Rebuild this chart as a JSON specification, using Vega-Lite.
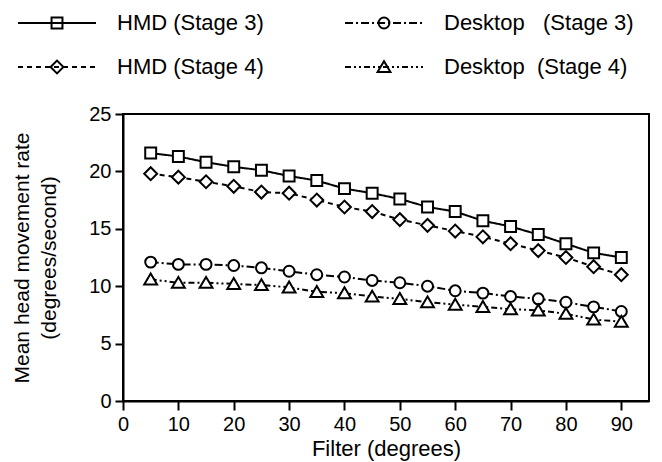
{
  "$schema": "https://vega.github.io/schema/vega-lite/v6.json",
  "autosize": {"type": "none"},
  "padding": {"left": 123, "top": 114, "right": 13, "bottom": 61},
  "width": 526,
  "height": 287,
  "background": "white",
  "config": {
    "view": {"stroke": "black", "strokeWidth": 2},
    "font": "Liberation Sans",
    "axis": {"grid": false, "domainColor": "black", "domainWidth": 2, "tickColor": "black", "tickWidth": 2, "labelColor": "black", "titleColor": "black", "labelFont": "Liberation Sans", "titleFont": "Liberation Sans", "titleFontWeight": "normal"}
  },
  "data": {"values": [
    {"filter": 5, "rate": 21.6, "series": "HMD (Stage 3)"},
    {"filter": 10, "rate": 21.3, "series": "HMD (Stage 3)"},
    {"filter": 15, "rate": 20.8, "series": "HMD (Stage 3)"},
    {"filter": 20, "rate": 20.4, "series": "HMD (Stage 3)"},
    {"filter": 25, "rate": 20.1, "series": "HMD (Stage 3)"},
    {"filter": 30, "rate": 19.6, "series": "HMD (Stage 3)"},
    {"filter": 35, "rate": 19.2, "series": "HMD (Stage 3)"},
    {"filter": 40, "rate": 18.5, "series": "HMD (Stage 3)"},
    {"filter": 45, "rate": 18.1, "series": "HMD (Stage 3)"},
    {"filter": 50, "rate": 17.6, "series": "HMD (Stage 3)"},
    {"filter": 55, "rate": 16.9, "series": "HMD (Stage 3)"},
    {"filter": 60, "rate": 16.5, "series": "HMD (Stage 3)"},
    {"filter": 65, "rate": 15.7, "series": "HMD (Stage 3)"},
    {"filter": 70, "rate": 15.2, "series": "HMD (Stage 3)"},
    {"filter": 75, "rate": 14.5, "series": "HMD (Stage 3)"},
    {"filter": 80, "rate": 13.7, "series": "HMD (Stage 3)"},
    {"filter": 85, "rate": 12.9, "series": "HMD (Stage 3)"},
    {"filter": 90, "rate": 12.5, "series": "HMD (Stage 3)"},
    {"filter": 5, "rate": 19.8, "series": "HMD (Stage 4)"},
    {"filter": 10, "rate": 19.5, "series": "HMD (Stage 4)"},
    {"filter": 15, "rate": 19.1, "series": "HMD (Stage 4)"},
    {"filter": 20, "rate": 18.7, "series": "HMD (Stage 4)"},
    {"filter": 25, "rate": 18.2, "series": "HMD (Stage 4)"},
    {"filter": 30, "rate": 18.1, "series": "HMD (Stage 4)"},
    {"filter": 35, "rate": 17.5, "series": "HMD (Stage 4)"},
    {"filter": 40, "rate": 16.9, "series": "HMD (Stage 4)"},
    {"filter": 45, "rate": 16.5, "series": "HMD (Stage 4)"},
    {"filter": 50, "rate": 15.8, "series": "HMD (Stage 4)"},
    {"filter": 55, "rate": 15.3, "series": "HMD (Stage 4)"},
    {"filter": 60, "rate": 14.8, "series": "HMD (Stage 4)"},
    {"filter": 65, "rate": 14.3, "series": "HMD (Stage 4)"},
    {"filter": 70, "rate": 13.7, "series": "HMD (Stage 4)"},
    {"filter": 75, "rate": 13.1, "series": "HMD (Stage 4)"},
    {"filter": 80, "rate": 12.5, "series": "HMD (Stage 4)"},
    {"filter": 85, "rate": 11.7, "series": "HMD (Stage 4)"},
    {"filter": 90, "rate": 11.0, "series": "HMD (Stage 4)"},
    {"filter": 5, "rate": 12.1, "series": "Desktop\u00a0\u00a0\u00a0(Stage 3)"},
    {"filter": 10, "rate": 11.9, "series": "Desktop\u00a0\u00a0\u00a0(Stage 3)"},
    {"filter": 15, "rate": 11.9, "series": "Desktop\u00a0\u00a0\u00a0(Stage 3)"},
    {"filter": 20, "rate": 11.8, "series": "Desktop\u00a0\u00a0\u00a0(Stage 3)"},
    {"filter": 25, "rate": 11.6, "series": "Desktop\u00a0\u00a0\u00a0(Stage 3)"},
    {"filter": 30, "rate": 11.3, "series": "Desktop\u00a0\u00a0\u00a0(Stage 3)"},
    {"filter": 35, "rate": 11.0, "series": "Desktop\u00a0\u00a0\u00a0(Stage 3)"},
    {"filter": 40, "rate": 10.8, "series": "Desktop\u00a0\u00a0\u00a0(Stage 3)"},
    {"filter": 45, "rate": 10.5, "series": "Desktop\u00a0\u00a0\u00a0(Stage 3)"},
    {"filter": 50, "rate": 10.3, "series": "Desktop\u00a0\u00a0\u00a0(Stage 3)"},
    {"filter": 55, "rate": 10.0, "series": "Desktop\u00a0\u00a0\u00a0(Stage 3)"},
    {"filter": 60, "rate": 9.6, "series": "Desktop\u00a0\u00a0\u00a0(Stage 3)"},
    {"filter": 65, "rate": 9.4, "series": "Desktop\u00a0\u00a0\u00a0(Stage 3)"},
    {"filter": 70, "rate": 9.1, "series": "Desktop\u00a0\u00a0\u00a0(Stage 3)"},
    {"filter": 75, "rate": 8.9, "series": "Desktop\u00a0\u00a0\u00a0(Stage 3)"},
    {"filter": 80, "rate": 8.6, "series": "Desktop\u00a0\u00a0\u00a0(Stage 3)"},
    {"filter": 85, "rate": 8.2, "series": "Desktop\u00a0\u00a0\u00a0(Stage 3)"},
    {"filter": 90, "rate": 7.8, "series": "Desktop\u00a0\u00a0\u00a0(Stage 3)"},
    {"filter": 5, "rate": 10.6, "series": "Desktop\u00a0\u00a0(Stage 4)"},
    {"filter": 10, "rate": 10.3, "series": "Desktop\u00a0\u00a0(Stage 4)"},
    {"filter": 15, "rate": 10.3, "series": "Desktop\u00a0\u00a0(Stage 4)"},
    {"filter": 20, "rate": 10.2, "series": "Desktop\u00a0\u00a0(Stage 4)"},
    {"filter": 25, "rate": 10.1, "series": "Desktop\u00a0\u00a0(Stage 4)"},
    {"filter": 30, "rate": 9.9, "series": "Desktop\u00a0\u00a0(Stage 4)"},
    {"filter": 35, "rate": 9.5, "series": "Desktop\u00a0\u00a0(Stage 4)"},
    {"filter": 40, "rate": 9.4, "series": "Desktop\u00a0\u00a0(Stage 4)"},
    {"filter": 45, "rate": 9.1, "series": "Desktop\u00a0\u00a0(Stage 4)"},
    {"filter": 50, "rate": 8.9, "series": "Desktop\u00a0\u00a0(Stage 4)"},
    {"filter": 55, "rate": 8.6, "series": "Desktop\u00a0\u00a0(Stage 4)"},
    {"filter": 60, "rate": 8.4, "series": "Desktop\u00a0\u00a0(Stage 4)"},
    {"filter": 65, "rate": 8.2, "series": "Desktop\u00a0\u00a0(Stage 4)"},
    {"filter": 70, "rate": 8.0, "series": "Desktop\u00a0\u00a0(Stage 4)"},
    {"filter": 75, "rate": 7.9, "series": "Desktop\u00a0\u00a0(Stage 4)"},
    {"filter": 80, "rate": 7.6, "series": "Desktop\u00a0\u00a0(Stage 4)"},
    {"filter": 85, "rate": 7.1, "series": "Desktop\u00a0\u00a0(Stage 4)"},
    {"filter": 90, "rate": 6.9, "series": "Desktop\u00a0\u00a0(Stage 4)"}
  ]},
  "encoding": {
    "x": {"field": "filter", "type": "quantitative", "scale": {"domain": [0, 95], "nice": false},
      "axis": {"values": [0, 10, 20, 30, 40, 50, 60, 70, 80, 90], "tickSize": 9, "labelFontSize": 20, "labelPadding": 4, "labelFlush": false, "title": "Filter (degrees)", "titleFontSize": 22, "titlePadding": 4}},
    "y": {"field": "rate", "type": "quantitative", "scale": {"domain": [0, 25], "nice": false},
      "axis": {"values": [0, 5, 10, 15, 20, 25], "tickSize": 8, "labelFontSize": 20, "labelPadding": 4, "title": ["Mean head movement rate", "(degrees/second)"], "titleFontSize": 21, "titleLineHeight": 27, "titlePadding": 29}}
  },
  "resolve": {"scale": {"shape": "independent"}, "legend": {"shape": "independent"}},
  "layer": [
    {
      "mark": {"type": "line", "color": "black", "strokeWidth": 2},
      "encoding": {
        "strokeDash": {"field": "series", "type": "nominal",
          "scale": {"domain": ["HMD (Stage 3)", "HMD (Stage 4)", "Desktop\u00a0\u00a0\u00a0(Stage 3)", "Desktop\u00a0\u00a0(Stage 4)"],
                    "range": [[1, 0], [5, 4], [8, 3, 2, 3], [6, 3, 2, 3, 2, 3]]},
          "legend": {"orient": "none", "legendX": -106, "legendY": -102, "columns": 2, "title": null, "padding": 0, "clipHeight": 22,
            "symbolType": "stroke", "symbolSize": 6084, "symbolStrokeWidth": 2, "symbolStrokeColor": "black", "symbolOpacity": 1,
            "labelFont": "Liberation Sans", "labelFontSize": 22, "labelColor": "black", "labelOffset": 20, "labelLimit": 400,
            "columnPadding": 80, "rowPadding": 22}}
      }
    },
    {
      "mark": {"type": "point", "filled": true, "color": "white", "strokeWidth": 0, "opacity": 1, "size": 6084},
      "encoding": {
        "shape": {"field": "series", "type": "nominal",
          "sort": {"field": "rate", "op": "max", "order": "descending"},
          "scale": {"range": [
            "M-1,0L-1,0M1,0L1,0M-0.14,-0.14H0.14V0.14H-0.14Z",
            "M-1,0L-1,0M1,0L1,0M-0.165,0L0,-0.165L0.165,0L0,0.165Z",
            "M-1,0L-1,0M1,0L1,0M0.14,0A0.14,0.14,0,1,1,-0.14,0A0.14,0.14,0,1,1,0.14,0Z",
            "M-1,0L-1,0M1,0L1,0M0,-0.15L-0.165,0.13L0.165,0.13Z"
          ]},
          "legend": null}
      }
    },
    {
      "mark": {"type": "point", "filled": false, "color": "black", "strokeWidth": 2, "opacity": 1, "size": 6084},
      "encoding": {
        "shape": {"field": "series", "type": "nominal",
          "sort": {"field": "rate", "op": "max", "order": "descending"},
          "scale": {"range": [
            "M-1,0L-1,0M1,0L1,0M-0.14,-0.14H0.14V0.14H-0.14Z",
            "M-1,0L-1,0M1,0L1,0M-0.165,0L0,-0.165L0.165,0L0,0.165Z",
            "M-1,0L-1,0M1,0L1,0M0.14,0A0.14,0.14,0,1,1,-0.14,0A0.14,0.14,0,1,1,0.14,0Z",
            "M-1,0L-1,0M1,0L1,0M0,-0.15L-0.165,0.13L0.165,0.13Z"
          ]},
          "legend": {"orient": "none", "legendX": -106, "legendY": -102, "columns": 2, "title": null, "padding": 0, "clipHeight": 22,
            "symbolSize": 6084, "symbolStrokeWidth": 2, "symbolOpacity": 1,
            "labelFont": "Liberation Sans", "labelFontSize": 22, "labelColor": "black", "labelOpacity": 0, "labelOffset": 20, "labelLimit": 400,
            "columnPadding": 80, "rowPadding": 22}}
      }
    }
  ]
}
